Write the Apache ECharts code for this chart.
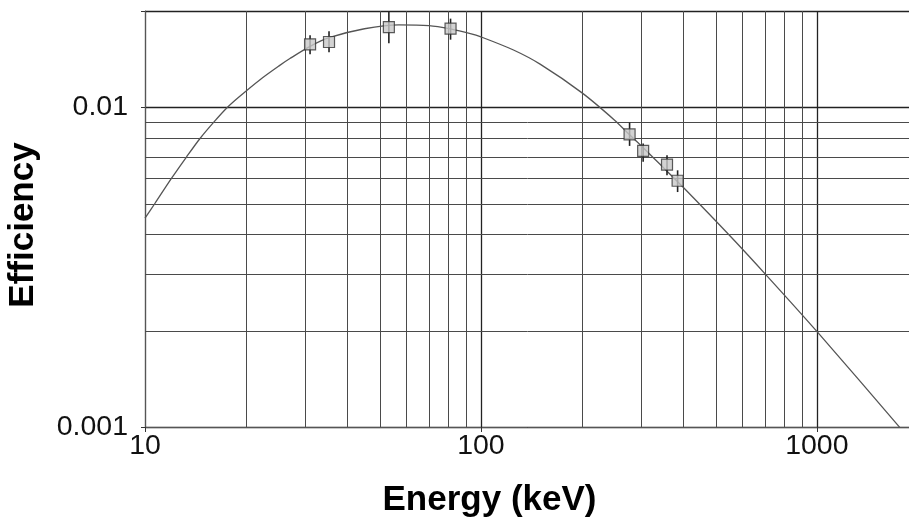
<!DOCTYPE html>
<html>
<head>
<meta charset="utf-8">
<script src="https://cdn.jsdelivr.net/npm/echarts@6/dist/echarts.min.js"></script>
<style>
html,body{margin:0;padding:0;background:#fff;}
#chart{width:909px;height:519px;}
</style>
</head>
<body>
<div id="chart"></div>
<script>
// Fitted efficiency curve
const curveEnergy = [10, 10.7, 12, 13.3, 14.6, 16.05, 17.6, 19, 22, 25, 27, 31, 35.3, 45, 57, 70, 81, 93, 100, 125, 150, 200, 250, 277, 303, 350, 400, 550, 710, 1000, 1767, 1880];
const curveEff    = [0.0045, 0.005, 0.006, 0.007, 0.008, 0.009, 0.01, 0.01075, 0.0122, 0.01345, 0.0142, 0.0155, 0.0165, 0.0176, 0.0181, 0.0180, 0.01758, 0.0170, 0.0166, 0.0151, 0.01364, 0.01109, 0.00911, 0.0082, 0.0075, 0.00646, 0.00562, 0.00397, 0.00297, 0.00199, 0.000996, 0.00092];

// Measured points with error bars
const pointEnergy = [31, 35.3, 53.2, 81.2, 277, 304, 358, 385];
const pointEff    = [0.01573, 0.0160, 0.01782, 0.01762, 0.00823, 0.0073, 0.00662, 0.00589];
const errLow      = [0.01464, 0.01486, 0.01585, 0.01627, 0.00757, 0.00675, 0.00613, 0.00543];
const errHigh     = [0.01679, 0.01728, 0.0202, 0.01893, 0.00896, 0.0077, 0.00708, 0.00635];

// Grid / ticks
const xMinorLines = [20, 30, 40, 50, 60, 70, 80, 90, 200, 300, 400, 500, 600, 700, 800, 900];
const yMinorLines = [0.002, 0.003, 0.004, 0.005, 0.006, 0.007, 0.008, 0.009];
const xTickValues = [10, 100, 1000];
const xTickLabels = ['10', '100', '1000'];
const yTickValues = [0.001, 0.01];
const yTickLabels = ['0.001', '0.01'];

function labelFor(v, vals, labels) {
  for (let i = 0; i < vals.length; i++) {
    if (Math.abs(Math.log10(v) - Math.log10(vals[i])) < 1e-6) return labels[i];
  }
  return '';
}

const chart = echarts.init(document.getElementById('chart'));
const minorColor = '#4a4a4a';
const FONT = 'Liberation Sans, Arial, sans-serif';

chart.setOption({
  animation: false,
  backgroundColor: '#fff',
  grid: {left: 145, top: 11, bottom: 92, right: -9, outerBoundsMode: 'none', containLabel: false},
  xAxis: {
    type: 'log', logBase: 10, min: 10, max: 2000,
    name: 'Energy (keV)', nameLocation: 'middle', nameGap: 56,
    nameTextStyle: {fontFamily: FONT, fontWeight: 'bold', fontSize: 35, color: '#000', padding: [0, 84, 0, 0]},
    axisLine: {show: true, lineStyle: {color: '#555', width: 1}},
    axisTick: {show: true, length: 5, lineStyle: {color: '#333'}},
    axisLabel: {
      fontFamily: FONT, fontSize: 28.5, color: '#111', margin: 5,
      formatter: v => labelFor(v, xTickValues, xTickLabels)
    },
    splitLine: {show: true, lineStyle: {color: '#222', width: 1.3}}
  },
  yAxis: {
    type: 'log', logBase: 10, min: 0.001, max: 0.02,
    name: 'Efficiency', nameLocation: 'middle', nameGap: 104,
    nameTextStyle: {fontFamily: FONT, fontWeight: 'bold', fontSize: 35, color: '#000', padding: [0, 12, 0, 0]},
    axisLine: {show: true, lineStyle: {color: '#555', width: 1}},
    axisTick: {show: true, length: 4, lineStyle: {color: '#333'}},
    axisLabel: {
      fontFamily: FONT, fontSize: 28.5, color: '#111', margin: 17,
      formatter: v => labelFor(v, yTickValues, yTickLabels)
    },
    splitLine: {show: true, lineStyle: {color: '#222', width: 1.3}}
  },
  series: [
    {
      // minor vertical grid lines
      type: 'custom', silent: true, z: 1, clip: false,
      data: xMinorLines.map(v => [v, 0.001]),
      encode: {x: 0, y: 1},
      renderItem: function (params, api) {
        const cs = params.coordSys;
        const p = api.coord([api.value(0), api.value(1)]);
        const x = Math.round(p[0]) + 0.5;
        return {type: 'line', shape: {x1: x, y1: cs.y, x2: x, y2: cs.y + cs.height},
                style: {stroke: minorColor, lineWidth: 1}};
      }
    },
    {
      // minor horizontal grid lines
      type: 'custom', silent: true, z: 1, clip: false,
      data: yMinorLines.map(v => [10, v]),
      encode: {x: 0, y: 1},
      renderItem: function (params, api) {
        const cs = params.coordSys;
        const p = api.coord([api.value(0), api.value(1)]);
        const y = Math.round(p[1]) + 0.5;
        return {type: 'line', shape: {x1: cs.x, y1: y, x2: cs.x + cs.width, y2: y},
                style: {stroke: minorColor, lineWidth: 1}};
      }
    },
    {
      type: 'line', name: 'fit', clip: true, smooth: 0.3, symbol: 'none',
      data: curveEnergy.map((e, i) => [e, curveEff[i]]),
      lineStyle: {color: '#555', width: 1.3}, z: 3
    },
    {
      type: 'custom', name: 'err', clip: true, z: 4,
      data: pointEnergy.map((e, i) => [e, errLow[i], errHigh[i]]),
      encode: {x: 0, y: [1, 2]},
      renderItem: function (params, api) {
        const x = api.value(0);
        const lo = api.coord([x, api.value(1)]);
        const hi = api.coord([x, api.value(2)]);
        return {
          type: 'line',
          shape: {x1: lo[0], y1: lo[1], x2: hi[0], y2: hi[1]},
          style: {stroke: '#222', lineWidth: 1.6}
        };
      }
    },
    {
      type: 'scatter', name: 'data', symbol: 'rect', symbolSize: 11, z: 5,
      data: pointEnergy.map((e, i) => [e, pointEff[i]]),
      itemStyle: {color: '#c8c8c8', borderColor: '#333', borderWidth: 1.2}
    }
  ]
});
</script>
</body>
</html>
